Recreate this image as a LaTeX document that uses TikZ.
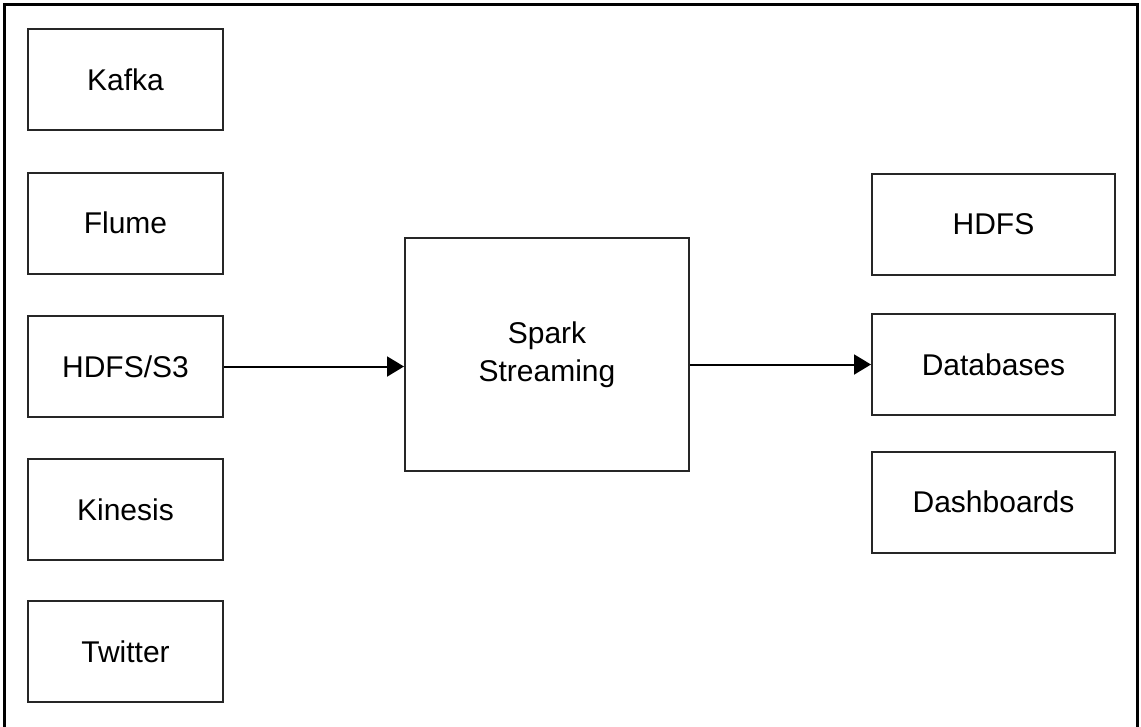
\documentclass[tikz,border=0pt]{standalone}
\usepackage{fontspec}
\setmainfont{Liberation Sans}
\usetikzlibrary{arrows.meta}
\tikzset{
  box/.style={draw=black!85, line width=2pt, minimum width=195pt, minimum height=101pt, inner sep=0pt, font=\fontsize{30}{38}\selectfont, align=center},
  rbox/.style={box, minimum width=243pt},
  flow/.style={line width=2pt, -{Triangle[length=17pt,width=20pt]}}
}
\begin{document}
\begin{tikzpicture}[x=1pt,y=-1pt]
\useasboundingbox (0,0) rectangle (1141,726);
\coordinate (fbl) at (4,727);
\coordinate (ftl) at (4,4);
\coordinate (ftr) at (1137,4);
\coordinate (fbr) at (1137,727);
\draw[line width=3pt] (fbl) -- (ftl) -- (ftr) -- (fbr);
\node[box] (kafka) at (125.5,79.5) {Kafka};
\node[box] (flume) at (125.5,223) {Flume};
\node[box] (hdfss3) at (125.5,366.5) {HDFS/S3};
\node[box] (kinesis) at (125.5,509.5) {Kinesis};
\node[box] (twitter) at (125.5,651.5) {Twitter};
\node[box, minimum width=284pt, minimum height=233pt] (spark) at (547,354.5) {Spark\\Streaming};
\node[rbox] (hdfs) at (993.5,224.5) {HDFS};
\node[rbox] (db) at (993.5,364.5) {Databases};
\node[rbox] (dash) at (993.5,502) {Dashboards};
\draw[flow] (hdfss3.east) -- (hdfss3.east -| spark.west);
\draw[flow] (spark.east |- db.west) -- (db.west);
\end{tikzpicture}
\end{document}
